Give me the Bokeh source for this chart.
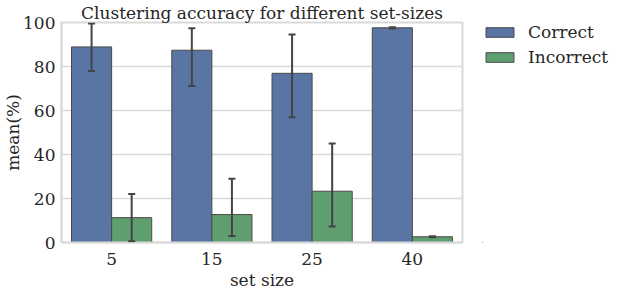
from bokeh.plotting import figure
from bokeh.models import ColumnDataSource, Whisker, Legend, LegendItem, FixedTicker, Range1d
from bokeh.transform import dodge
from bokeh.layouts import row
from bokeh.embed import file_html
from bokeh.resources import INLINE

set_sizes = ["5", "15", "25", "40"]
correct_mean = [88.9, 87.4, 76.9, 97.6]
correct_lo = [78.0, 71.1, 56.9, 97.3]
correct_hi = [99.6, 97.4, 94.6, 97.8]
incorrect_mean = [11.3, 12.7, 23.3, 2.6]
incorrect_lo = [0.6, 2.9, 7.3, 2.4]
incorrect_hi = [22.1, 29.0, 45.0, 2.8]
y_ticks = [0, 20, 40, 60, 80, 100]
series_labels = ["Correct", "Incorrect"]

FONT = "DejaVu Serif"
FS = "17px"
C_BLUE = "#5975a4"
C_GREEN = "#5f9e6e"
GRID = "#dadada"
EDGE = "#4a4a4a"
TXT = "#262626"
H = 292

src = ColumnDataSource(dict(
    size=set_sizes,
    cm=correct_mean, clo=correct_lo, chi=correct_hi,
    im=incorrect_mean, ilo=incorrect_lo, ihi=incorrect_hi,
))

p = figure(x_range=set_sizes, y_range=(0, 100), width=464, height=H,
           output_backend="svg", toolbar_location=None,
           title="Clustering accuracy for different set-sizes",
           min_border_left=58, min_border_right=2,
           min_border_top=15, min_border_bottom=30)
p.x_range.range_padding = 0

p.title.align = "center"
p.title.text_font = FONT
p.title.text_font_size = FS
p.title.text_font_style = "normal"
p.title.text_color = TXT
p.title.standoff = 0
p.title.offset = 0

p.vbar(x=dodge("size", -0.2, range=p.x_range), top="cm", width=0.4, source=src,
       fill_color=C_BLUE, line_color=EDGE, line_width=1)
p.vbar(x=dodge("size", 0.2, range=p.x_range), top="im", width=0.4, source=src,
       fill_color=C_GREEN, line_color=EDGE, line_width=1)

for xcol, lo, hi in [(-0.2, "clo", "chi"), (0.2, "ilo", "ihi")]:
    w = Whisker(base=dodge("size", xcol, range=p.x_range), lower=lo, upper=hi, source=src,
                line_color="#444444", line_width=2, level="overlay")
    for h in (w.upper_head, w.lower_head):
        h.size = 7
        h.line_color = "#444444"
        h.line_width = 2
    p.add_layout(w)

p.xgrid.grid_line_color = None
p.ygrid.grid_line_color = GRID
p.ygrid.grid_line_width = 1.5
p.outline_line_color = GRID
p.outline_line_width = 2
p.yaxis.ticker = FixedTicker(ticks=y_ticks)

for ax in (p.xaxis[0], p.yaxis[0]):
    ax.axis_line_color = GRID
    ax.axis_line_width = 2
    ax.major_tick_line_color = None
    ax.minor_tick_line_color = None
    ax.major_tick_out = 0
    ax.major_tick_in = 0
    ax.minor_tick_out = 0
    ax.minor_tick_in = 0
    ax.major_label_text_font = FONT
    ax.major_label_text_font_size = FS
    ax.major_label_text_color = TXT
    ax.axis_label_text_font = FONT
    ax.axis_label_text_font_size = FS
    ax.axis_label_text_font_style = "normal"
    ax.axis_label_text_color = TXT

p.xaxis.axis_label = "set size"
p.yaxis.axis_label = "mean(%)"
p.xaxis.major_label_standoff = 10
p.xaxis.axis_label_standoff = 2
p.yaxis.major_label_standoff = 6
p.yaxis.axis_label_standoff = -3

# legend panel (handles use off-screen dummy glyphs styled like the bars)
p2 = figure(width=150, height=H, output_backend="svg", toolbar_location=None,
            x_range=Range1d(1, 2), y_range=Range1d(1, 2),
            x_axis_location=None, y_axis_location=None,
            min_border_left=18, min_border_right=0, min_border_top=17, min_border_bottom=0)
p2.outline_line_color = None
p2.xgrid.grid_line_color = None
p2.ygrid.grid_line_color = None
d1 = p2.vbar(x=[0], top=[0], bottom=[-1], width=0.4, fill_color=C_BLUE, line_color=EDGE, line_width=1)
d2 = p2.vbar(x=[0], top=[0], bottom=[-1], width=0.4, fill_color=C_GREEN, line_color=EDGE, line_width=1)

legend = Legend(items=[LegendItem(label=series_labels[0], renderers=[d1]),
                       LegendItem(label=series_labels[1], renderers=[d2])],
                location="top_left", orientation="vertical")
legend.label_text_font = FONT
legend.label_text_font_size = FS
legend.label_text_color = TXT
legend.glyph_width = 35
legend.glyph_height = 12
legend.label_standoff = 11
legend.label_height = 20
legend.spacing = 5
legend.padding = 0
legend.margin = 0
legend.border_line_color = None
legend.background_fill_alpha = 0
p2.add_layout(legend)

open("out.html", "w").write(file_html(row(p, p2), INLINE))
